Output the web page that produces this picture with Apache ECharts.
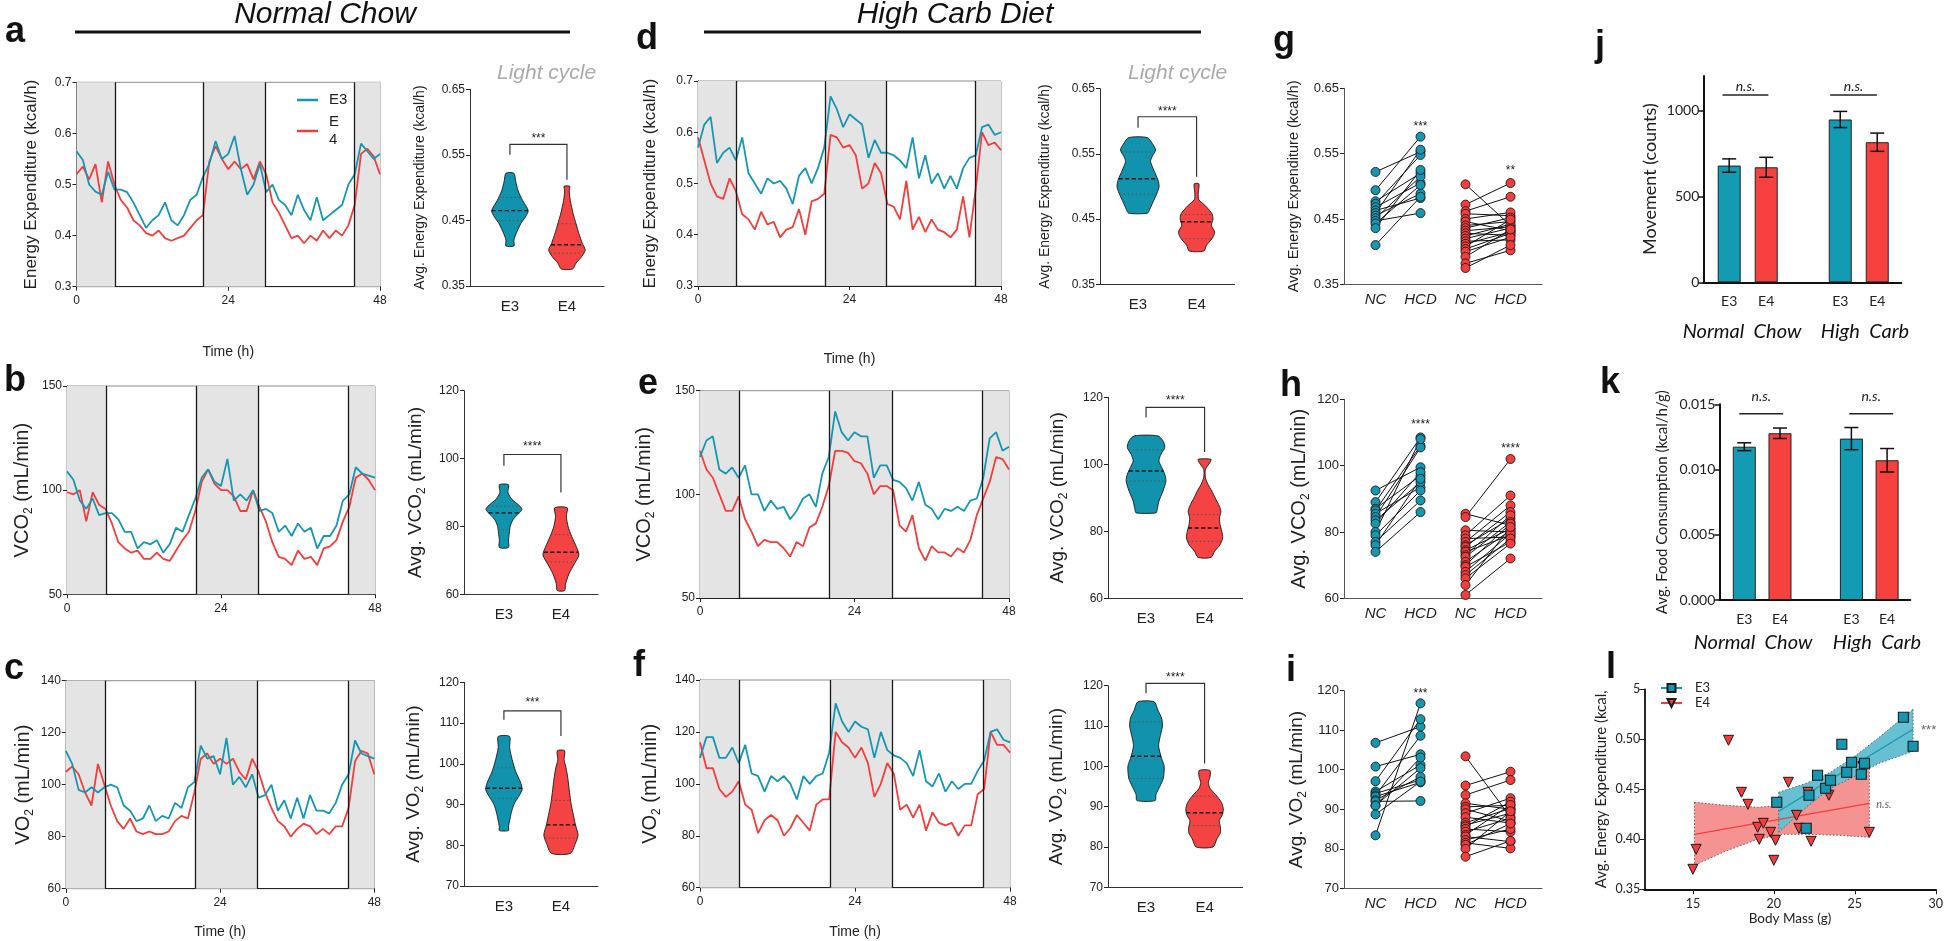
<!DOCTYPE html>
<html><head><meta charset="utf-8">
<script src="https://cdn.jsdelivr.net/npm/echarts@6/dist/echarts.min.js"></script>
<style>html,body{margin:0;padding:0;background:#fff}#c{width:1946px;height:941px}</style>
</head><body><div id="c"></div>
<script>
// ---------------- DATA ----------------
const hours = [0,1,2,3,4,5,6,7,8,9,10,11,12,13,14,15,16,17,18,19,20,21,22,23,24,25,26,27,28,29,30,31,32,33,34,35,36,37,38,39,40,41,42,43,44,45,46,47,48];
const darkPeriods = [[0,6.1],[20.1,29.8],[43.9,48]];
const darkEdges = [6.1,20.1,29.8,43.9];

// Normal chow time series
const eeNC_E3 = [0.565,0.548,0.50,0.486,0.48,0.525,0.49,0.49,0.485,0.465,0.44,0.415,0.43,0.44,0.465,0.43,0.42,0.44,0.47,0.48,0.515,0.54,0.585,0.55,0.56,0.595,0.53,0.48,0.50,0.54,0.485,0.50,0.47,0.46,0.44,0.48,0.45,0.43,0.475,0.43,0.44,0.45,0.46,0.50,0.52,0.58,0.565,0.55,0.56];
const eeNC_E4 = [0.52,0.535,0.51,0.54,0.465,0.545,0.50,0.47,0.455,0.43,0.42,0.405,0.40,0.41,0.395,0.39,0.395,0.40,0.415,0.43,0.44,0.545,0.575,0.55,0.53,0.545,0.53,0.54,0.51,0.545,0.52,0.465,0.445,0.42,0.395,0.40,0.385,0.40,0.39,0.41,0.395,0.41,0.40,0.42,0.46,0.56,0.57,0.555,0.52];
const vco2NC_E3 = [109,105,95,91,96,88,89,89,86,80,80,72,75,74,76,70,74,82,80,88,96,106,110,104,102,115,95,98,95,100,90,91,89,80,83,78,84,80,82,72,78,78,83,95,98,111,108,107,106];
const vco2NC_E4 = [99,98,100,85,99,93,91,84,75,72,70,71,67,67,70,67,66,71,76,80,90,104,110,103,100,100,97,90,90,100,92,85,75,68,67,64,71,67,68,64,72,73,76,85,92,106,108,105,100];
const vo2NC_E3 = [113,108,98,97,99,97,99,100,99,92,90,86,87,92,86,88,87,93,91,99,101,115,110,111,104,118,100,103,99,104,95,96,100,90,94,87,95,87,96,90,90,89,93,100,104,117,112,111,110];
const vo2NC_E4 = [105,107,104,97,92,108,100,92,86,83,87,82,81,82,81,81,82,86,88,87,97,110,112,108,110,108,110,105,102,110,105,97,91,86,84,80,83,85,84,81,83,81,84,84,91,109,113,112,104];
// High carb time series
const eeHC_E3 = [0.57,0.615,0.63,0.54,0.56,0.57,0.545,0.59,0.52,0.50,0.48,0.51,0.50,0.505,0.49,0.46,0.515,0.53,0.50,0.53,0.57,0.67,0.645,0.61,0.635,0.625,0.615,0.55,0.585,0.56,0.56,0.555,0.545,0.53,0.59,0.51,0.555,0.50,0.52,0.49,0.515,0.49,0.53,0.55,0.555,0.61,0.615,0.595,0.60];
const eeHC_E4 = [0.59,0.545,0.50,0.475,0.47,0.51,0.485,0.44,0.43,0.41,0.445,0.42,0.425,0.395,0.41,0.415,0.45,0.40,0.465,0.47,0.48,0.595,0.59,0.57,0.575,0.555,0.49,0.50,0.54,0.52,0.46,0.455,0.43,0.505,0.41,0.435,0.405,0.43,0.41,0.405,0.395,0.41,0.475,0.395,0.49,0.60,0.575,0.58,0.565];
const vco2HC_E3 = [118,126,128,112,110,113,108,114,100,100,92,97,93,94,88,92,98,100,94,110,118,140,130,126,130,128,128,108,114,114,107,106,103,97,106,95,93,88,93,92,94,92,97,98,108,127,130,121,123];
const vco2HC_E4 = [121,112,108,100,92,92,99,88,82,75,78,77,77,74,70,77,75,84,86,94,104,121,121,120,116,115,110,100,104,104,102,85,82,90,74,68,75,72,72,70,74,72,78,90,98,106,118,117,112];
const vo2HC_E3 = [110,118,118,110,110,114,108,115,104,103,97,103,101,103,100,94,103,100,103,104,112,131,124,120,124,122,121,110,120,113,111,110,108,103,113,101,99,104,97,101,98,100,100,105,109,120,121,117,116];
const vo2HC_E4 = [116,106,106,98,95,97,101,92,90,81,86,88,86,80,83,88,85,82,92,94,94,120,116,114,110,114,108,95,100,108,104,90,92,87,92,82,89,85,84,85,80,84,84,96,98,120,115,115,112];

// Violin profiles: [value, half width in category units]; stats: [median, upper quartile, lower quartile]
const vioCats = ['E3','E4'];
const vioA_E3 = [[0.522,0.07],[0.51,0.10],[0.495,0.145],[0.48,0.225],[0.465,0.32],[0.455,0.27],[0.445,0.19],[0.43,0.11],[0.42,0.07],[0.411,0.07]];
const vioA_E4 = [[0.502,0.05],[0.495,0.04],[0.48,0.06],[0.46,0.11],[0.445,0.16],[0.43,0.21],[0.415,0.27],[0.405,0.32],[0.395,0.26],[0.385,0.16],[0.376,0.1]];
const vioB_E3 = [[92.3,0.08],[90,0.07],[88,0.14],[86,0.28],[85,0.315],[84,0.27],[82,0.16],[80,0.11],[78,0.095],[76,0.08],[73.8,0.08]];
const vioB_E4 = [[85.5,0.11],[83,0.095],[80,0.125],[77,0.19],[74,0.27],[71.6,0.315],[69,0.235],[66,0.14],[63,0.08],[61.1,0.065]];
const vioC_E3 = [[106.7,0.1],[104,0.1],[101,0.145],[98,0.21],[95.5,0.29],[93.7,0.32],[92,0.26],[90,0.175],[88,0.13],[86,0.1],[84.5,0.08],[83.6,0.08]];
const vioC_E4 = [[103.2,0.065],[101,0.055],[99,0.09],[96,0.125],[93,0.15],[90,0.18],[88,0.21],[85,0.255],[82.5,0.3],[80.5,0.255],[78,0.165]];
const vioD_E3 = [[0.575,0.16],[0.565,0.25],[0.556,0.3],[0.545,0.235],[0.538,0.215],[0.525,0.27],[0.51,0.34],[0.5,0.36],[0.49,0.325],[0.475,0.25],[0.465,0.2],[0.459,0.16]];
const vioD_E4 = [[0.504,0.04],[0.49,0.03],[0.48,0.037],[0.47,0.155],[0.458,0.265],[0.45,0.28],[0.44,0.255],[0.43,0.31],[0.42,0.265],[0.41,0.17],[0.401,0.125]];
const vioE_E3 = [[108.5,0.2],[107,0.29],[105,0.32],[103,0.255],[101,0.22],[99,0.27],[97,0.32],[95,0.34],[92,0.29],[89,0.22],[86.5,0.19],[85.5,0.17]];
const vioE_E4 = [[101.5,0.11],[100.5,0.09],[98.5,0.015],[96,0.015],[94,0.06],[92,0.125],[90,0.18],[88,0.24],[86,0.28],[84,0.255],[82,0.265],[80,0.295],[78,0.31],[76,0.265],[74,0.17],[72.2,0.11]];
const vioF_E3 = [[116,0.14],[114,0.2],[112,0.265],[110,0.28],[107,0.235],[105,0.215],[102,0.265],[100,0.31],[97,0.295],[95,0.235],[93,0.17],[91.5,0.155]];
const vioF_E4 = [[99,0.09],[97.5,0.095],[96,0.065],[94.5,0.095],[93,0.19],[91,0.29],[89.5,0.32],[88,0.305],[86.5,0.25],[85,0.27],[83.5,0.27],[82,0.21],[80,0.145]];
const statA = [[0.465,0.485,0.45],[0.413,0.445,0.40]];
const statB = [[84,86,79],[72.4,77.6,69.5]];
const statC = [[94,99,91.5],[85,91,81.8]];
const statD = [[0.512,0.553,0.488],[0.446,0.457,0.42]];
const statE = [[98,104.3,95],[81,85,77]];
const statF = [[102.5,111,97],[88.5,92.6,85.3]];

// Paired NC -> HCD values
const pairCats = ['NC','HCD','NC','HCD'];
const gE3_NC = [0.522,0.494,0.477,0.473,0.468,0.463,0.459,0.455,0.451,0.447,0.443,0.436,0.410];
const gE3_HCD = [0.553,0.576,0.520,0.548,0.505,0.482,0.556,0.489,0.515,0.459,0.502,0.525,0.484];
const gE4_NC = [0.503,0.472,0.462,0.458,0.450,0.446,0.440,0.436,0.432,0.428,0.424,0.420,0.416,0.412,0.408,0.404,0.400,0.392,0.382,0.375];
const gE4_HCD = [0.440,0.505,0.484,0.455,0.460,0.432,0.446,0.452,0.438,0.425,0.442,0.436,0.418,0.430,0.449,0.428,0.422,0.434,0.402,0.410];
const hE3_NC = [92.5,89,87,86.5,85.5,84.5,83.5,82.5,80,79,77,76,74];
const hE3_HCD = [99.5,108.5,97,106,93.5,105.5,95,98,108,92.5,89.5,96,86];
const hE4_NC = [85.5,84.5,80.5,79,78,77,76,75.5,74.5,74,73,72.5,71,70,69.5,68,67,66,64,61];
const hE4_HCD = [82,102,80,91,78.5,88,84,86,81,79,85,83,80.5,82.5,77,79.5,78,76.5,81.5,72];
const iE3_NC = [106.8,100.8,97.1,94.5,94,93.5,93.2,92.3,92,91,90.9,88.7,83.4];
const iE3_HCD = [110.9,103.9,112.8,101.2,97.4,108.6,96.8,98.2,92.1,100.4,103.1,97,116.8];
const iE4_NC = [103.4,96,93.6,91.5,90.6,90,89,88,86.6,86,85.6,85,84.3,83.5,83.1,82.2,81.5,81,80,78];
const iE4_HCD = [88,99.5,97.4,90,91,87,92.8,86.5,90.2,89,91.9,84.3,87.7,91.1,81.8,85,80.1,86.4,89.5,82];

// Bars (order: NC E3, NC E4, HC E3, HC E4)
const barCats = ['E3','E4','E3','E4'];
const moveMean = [679,669,947,815];
const moveSem = [39,58,47,53];
const foodMean = [0.01175,0.01278,0.01237,0.01071];
const foodSem = [0.0003,0.0004,0.00085,0.0009];

// Body mass vs energy expenditure
const lE3_mass = [20.18,22.0,22.17,22.7,23.2,23.5,24.2,24.5,24.8,25.4,25.6,28.0,28.6];
const lE3_ee = [0.437,0.411,0.444,0.464,0.451,0.459,0.495,0.467,0.477,0.465,0.476,0.522,0.493];
const lE4_mass = [15.0,15.2,17.2,18.0,18.4,19.0,19.35,19.1,19.8,20.1,20.0,20.9,21.4,21.55,22.1,22.3,23.4,25.5,25.9];
const lE4_ee = [0.370,0.390,0.499,0.447,0.435,0.412,0.416,0.400,0.407,0.399,0.379,0.457,0.424,0.411,0.447,0.398,0.444,0.473,0.407];
const lE3_fitX = [20.3,28.6], lE3_fitY = [0.428,0.510];
const lE4_fitX = [15.1,25.9], lE4_fitY = [0.405,0.436];
const lE3_bandX = [20.3,22,23.5,25,26.5,28.6];
const lE3_bandHi = [0.447,0.456,0.467,0.483,0.502,0.530];
const lE3_bandLo = [0.407,0.432,0.451,0.463,0.476,0.488];
const lE4_bandX = [15.1,17,19,20.5,22,24,25.9];
const lE4_bandHi = [0.437,0.434,0.432,0.434,0.445,0.458,0.471];
const lE4_bandLo = [0.374,0.388,0.400,0.405,0.405,0.404,0.402];

// ---------------- STYLE / HELPERS ----------------
const TEAL='#1697b1', RED='#f53c3c', VT='#1193ad', VR='#f54242', BT='#139bb4', BR='#f6413f';
const FONT='"Liberation Sans", Arial, Helvetica, sans-serif';
const FONT2='Lato, "Open Sans", sans-serif';
const grid=[], xAxis=[], yAxis=[], series=[];
const graphic=[];

function merge(a,b){const o=Object.assign({},a);for(const k in b){const v=b[k];if(v&&typeof v==='object'&&!Array.isArray(v)&&a[k]&&typeof a[k]==='object'&&!Array.isArray(a[k]))o[k]=merge(a[k],v);else o[k]=v;}return o;}
function valAxis(min,max,ticks,fmt,extra){
  return merge({type:'value',min:min,max:max,splitLine:{show:false},
    axisLine:{show:true,onZero:false,lineStyle:{color:'#222',width:1}},
    axisTick:{show:true,customValues:ticks,length:4,lineStyle:{color:'#222',width:1}},
    axisLabel:{show:true,customValues:ticks,formatter:fmt,fontFamily:FONT,fontSize:12,color:'#222',margin:5},
    nameTextStyle:{fontFamily:FONT,color:'#222'}},extra||{});
}
function rich(s){return {sub:{fontSize:Math.round(s*0.62),lineHeight:Math.round(s*0.62),verticalAlign:'bottom',fontFamily:FONT,color:'#222'}};}
function yName(name,size,gap){return {name:name,nameLocation:'middle',nameRotate:90,nameGap:gap,nameTextStyle:{fontSize:size,lineHeight:Math.round(size*1.25),rich:rich(size)}};}
function addGrid(b,show){grid.push({left:b[0],top:b[1],width:b[2],height:b[3],show:!!show,borderColor:'#8c8c8c',borderWidth:1,backgroundColor:'transparent'});return grid.length-1;}
function halfAt(p,v){for(let j=0;j<p.length-1;j++){const a=p[j],b=p[j+1];if(v<=a[0]&&v>=b[0]){const t=(a[0]-v)/(a[0]-b[0]);return a[1]+(b[1]-a[1])*t;}}return p[p.length-1][1];}
function annot(gi,items){
  series.push({type:'custom',xAxisIndex:gi,yAxisIndex:gi,silent:true,clip:false,z:10,data:items.map(it=>[it.x,it.y]),
    renderItem:(p,api)=>{const it=items[p.dataIndex];const c=api.coord([api.value(0),api.value(1)]);
      return {type:'text',x:c[0],y:c[1],style:{text:it.t,fontSize:it.s||12,fontFamily:it.f||FONT,fontStyle:it.i?'italic':'normal',fill:it.c||'#222',align:'center',verticalAlign:'middle',textAlign:'center',textVerticalAlign:'middle'}};}});
}
function bracket(gi,b){
  series.push({type:'custom',xAxisIndex:gi,yAxisIndex:gi,silent:true,clip:false,z:9,data:[b],
    renderItem:(p,api)=>{const v=i=>api.value(i);const pts=[api.coord([v(0),v(3)]),api.coord([v(0),v(2)]),api.coord([v(1),v(2)]),api.coord([v(1),v(4)])];
      return {type:'polyline',shape:{points:pts},style:{stroke:'#333',lineWidth:1.2,fill:null}};}});
}

function tsPanel(o){
  const gi=addGrid(o.box,true);
  xAxis.push(valAxis(0,48,[0,24,48],v=>String(v),{gridIndex:gi,axisLabel:{margin:8},name:o.timeGap?'Time (h)':'',nameLocation:'middle',nameGap:o.timeGap||0,nameTextStyle:{fontSize:14}}));
  yAxis.push(valAxis(o.ymin,o.ymax,o.yticks,o.yfmt,merge({gridIndex:gi},yName(o.name,o.nameSize,o.nameGap))));
  series.push({type:'line',name:o.n4,xAxisIndex:gi,yAxisIndex:gi,data:hours.map((h,i)=>[h,o.e4[i]]),symbol:'none',silent:true,z:3,
    lineStyle:{color:RED,width:1.8},itemStyle:{color:RED},
    markArea:{silent:true,itemStyle:{color:'#e4e4e4'},data:darkPeriods.map(d=>[{xAxis:d[0]},{xAxis:d[1]}])},
    markLine:{silent:true,symbol:['none','none'],label:{show:false},lineStyle:{color:'#1a1a1a',width:1.3,type:'solid'},data:darkEdges.map(x=>({xAxis:x}))}});
  series.push({type:'line',name:o.n3,xAxisIndex:gi,yAxisIndex:gi,data:hours.map((h,i)=>[h,o.e3[i]]),symbol:'none',silent:true,z:4,
    lineStyle:{color:TEAL,width:1.8},itemStyle:{color:TEAL}});
}

function violinPanel(o){
  const gi=addGrid(o.box,false);
  xAxis.push(valAxis(o.xmin,o.xmax,[1,2],v=>vioCats[v-1],{gridIndex:gi,axisTick:{show:false},axisLine:{lineStyle:{color:'#333'}},axisLabel:{fontSize:15,margin:13}}));
  yAxis.push(valAxis(o.ymin,o.ymax,o.yticks,o.yfmt,merge({gridIndex:gi,axisLine:{lineStyle:{color:'#333'}}},yName(o.name,o.nameSize,o.nameGap))));
  const profs=o.profs, stats=o.stats;
  series.push({type:'custom',xAxisIndex:gi,yAxisIndex:gi,silent:true,clip:false,z:5,data:[[1,o.ymin],[2,o.ymin]],
    renderItem:(p,api)=>{
      const i=p.dataIndex,x=api.value(0),prof=profs[i],st=stats[i],col=i===0?VT:VR;
      const right=prof.map(d=>api.coord([x+d[1],d[0]]));
      const left=prof.slice().reverse().map(d=>api.coord([x-d[1],d[0]]));
      const ch=[{type:'polygon',shape:{points:right.concat(left),smooth:0.25},style:{fill:col,stroke:'#1a1a1a',lineWidth:0.9}}];
      st.forEach((v,k)=>{const hw=halfAt(prof,v);const a=api.coord([x-hw,v]),b=api.coord([x+hw,v]);
        ch.push({type:'line',shape:{x1:a[0],y1:a[1],x2:b[0],y2:b[1]},style:k===0?{stroke:'#111',lineWidth:1.4,lineDash:[4,2.5]}:{stroke:'#555',lineWidth:1,lineDash:[1.5,2.5]}});});
      return {type:'group',children:ch};
    }});
  bracket(gi,o.bracket);
  annot(gi,[{x:1.5,y:o.starY,t:o.stars,s:12}]);
}

function pairedPanel(o){
  const gi=addGrid(o.box,false);
  xAxis.push(valAxis(0.3,4.7,[1,2,3,4],v=>pairCats[v-1],{gridIndex:gi,axisTick:{show:false},axisLine:{lineStyle:{color:'#555'}},axisLabel:{fontSize:15,fontStyle:'italic',margin:8}}));
  yAxis.push(valAxis(o.ymin,o.ymax,o.yticks,o.yfmt,merge({gridIndex:gi,axisLine:{lineStyle:{color:'#555'}},axisLabel:{fontSize:13}},yName(o.name,o.nameSize,o.nameGap))));
  const segs=o.e3nc.map((v,i)=>[1,v,2,o.e3hc[i]]).concat(o.e4nc.map((v,i)=>[3,v,4,o.e4hc[i]]));
  series.push({type:'custom',xAxisIndex:gi,yAxisIndex:gi,silent:true,z:3,data:segs,
    renderItem:(p,api)=>{const a=api.coord([api.value(0),api.value(1)]),b=api.coord([api.value(2),api.value(3)]);
      return {type:'line',shape:{x1:a[0],y1:a[1],x2:b[0],y2:b[1]},style:{stroke:'#111',lineWidth:1}};}});
  series.push({type:'scatter',xAxisIndex:gi,yAxisIndex:gi,silent:true,z:4,symbol:'circle',symbolSize:9,
    data:o.e3nc.map(v=>[1,v]).concat(o.e3hc.map(v=>[2,v])),itemStyle:{color:TEAL,borderColor:'#1a1a1a',borderWidth:0.9,opacity:1}});
  series.push({type:'scatter',xAxisIndex:gi,yAxisIndex:gi,silent:true,z:4,symbol:'circle',symbolSize:9,
    data:o.e4nc.map(v=>[3,v]).concat(o.e4hc.map(v=>[4,v])),itemStyle:{color:RED,borderColor:'#1a1a1a',borderWidth:0.9,opacity:1}});
  annot(gi,o.stars);
}

function barPanel(o){
  const gi=addGrid(o.box,false);
  const xs=[1,2,4,5], cols=[BT,BR,BT,BR];
  xAxis.push(valAxis(0.3,5.65,xs,v=>barCats[xs.indexOf(v)],{gridIndex:gi,axisTick:{show:false},axisLine:{lineStyle:{color:'#111',width:2}},axisLabel:{fontFamily:FONT2,fontSize:14,margin:12}}));
  yAxis.push(valAxis(o.ymin,o.ymax,o.yticks,o.yfmt,merge({gridIndex:gi,axisLine:{lineStyle:{color:'#111',width:2}},axisTick:{length:5,lineStyle:{width:1.5,color:'#111'}},axisLabel:{fontFamily:FONT2,fontSize:14,margin:4},nameTextStyle:{fontFamily:FONT2}},yName(o.name,o.nameSize,o.nameGap))));
  series.push({type:'bar',xAxisIndex:gi,yAxisIndex:gi,silent:true,barWidth:o.bw,z:2,
    data:xs.map((x,i)=>({value:[x,o.means[i]],itemStyle:{color:cols[i],borderColor:'#222',borderWidth:1}}))});
  series.push({type:'custom',xAxisIndex:gi,yAxisIndex:gi,silent:true,z:4,clip:false,
    data:xs.map((x,i)=>[x,o.means[i]-o.sems[i],o.means[i]+o.sems[i]]),
    renderItem:(p,api)=>{const lo=api.coord([api.value(0),api.value(1)]),hi=api.coord([api.value(0),api.value(2)]);const w=7;
      return {type:'group',children:[
        {type:'line',shape:{x1:lo[0],y1:lo[1],x2:hi[0],y2:hi[1]},style:{stroke:'#111',lineWidth:1.5}},
        {type:'line',shape:{x1:lo[0]-w,y1:lo[1],x2:lo[0]+w,y2:lo[1]},style:{stroke:'#111',lineWidth:1.5}},
        {type:'line',shape:{x1:hi[0]-w,y1:hi[1],x2:hi[0]+w,y2:hi[1]},style:{stroke:'#111',lineWidth:1.5}}]};}});
  series.push({type:'custom',xAxisIndex:gi,yAxisIndex:gi,silent:true,z:4,clip:false,data:o.ns,
    renderItem:(p,api)=>{const a=api.coord([api.value(0),api.value(2)]),b=api.coord([api.value(1),api.value(2)]);
      return {type:'line',shape:{x1:a[0],y1:a[1],x2:b[0],y2:b[1]},style:{stroke:'#222',lineWidth:1.5}};}});
  annot(gi,o.ns.map(n=>({x:(n[0]+n[1])/2,y:o.nsTextY,t:'n.s.',s:14,i:true,f:FONT2})));
}

// ---------------- PANELS ----------------
tsPanel({box:[76.5,82.3,303.5,204.4],ymin:0.3,ymax:0.7,yticks:[0.3,0.4,0.5,0.6,0.7],yfmt:v=>v.toFixed(1),name:'Energy Expenditure (kcal/h)',nameSize:17,nameGap:35,e3:eeNC_E3,e4:eeNC_E4,n3:'E3',n4:'E4',timeGap:58});
tsPanel({box:[67,386,308,208.3],ymin:50,ymax:150,yticks:[50,100,150],yfmt:v=>String(v),name:'VCO{sub|2} (mL/min)',nameSize:20,nameGap:32,e3:vco2NC_E3,e4:vco2NC_E4,n3:'b3',n4:'b4'});
tsPanel({box:[65.8,680.7,308.5,208],ymin:60,ymax:140,yticks:[60,80,100,120,140],yfmt:v=>String(v),name:'VO{sub|2} (mL/min)',nameSize:20,nameGap:30,e3:vo2NC_E3,e4:vo2NC_E4,n3:'c3',n4:'c4',timeGap:36});
tsPanel({box:[698,81,303,205],ymin:0.3,ymax:0.7,yticks:[0.3,0.4,0.5,0.6,0.7],yfmt:v=>v.toFixed(1),name:'Energy Expenditure (kcal/h)',nameSize:17,nameGap:37,e3:eeHC_E3,e4:eeHC_E4,n3:'d3',n4:'d4',timeGap:66});
tsPanel({box:[700,390.7,309,207.3],ymin:50,ymax:150,yticks:[50,100,150],yfmt:v=>String(v),name:'VCO{sub|2} (mL/min)',nameSize:20,nameGap:43,e3:vco2HC_E3,e4:vco2HC_E4,n3:'e3',n4:'e4'});
tsPanel({box:[700,680,310,207.7],ymin:60,ymax:140,yticks:[60,80,100,120,140],yfmt:v=>String(v),name:'VO{sub|2} (mL/min)',nameSize:20,nameGap:37,e3:vo2HC_E3,e4:vo2HC_E4,n3:'f3',n4:'f4',timeGap:37});

violinPanel({box:[470,89.3,134,196.7],xmin:0.3,xmax:2.65,ymin:0.35,ymax:0.65,yticks:[0.35,0.45,0.55,0.65],yfmt:v=>v.toFixed(2),name:'Avg. Energy Expenditure (kcal/h)',nameSize:14,nameGap:41,profs:[vioA_E3,vioA_E4],stats:statA,bracket:[1,2,0.566,0.55,0.512],starY:0.575,stars:'***'});
violinPanel({box:[464,390.7,134,203.6],xmin:0.3,xmax:2.65,ymin:60,ymax:120,yticks:[60,80,100,120],yfmt:v=>String(v),name:'Avg. VCO{sub|2} (mL/min)',nameSize:19,nameGap:36,profs:[vioB_E3,vioB_E4],stats:statB,bracket:[1,2,101.2,97.9,90],starY:103.5,stars:'****'});
violinPanel({box:[464,682.3,134,203.7],xmin:0.3,xmax:2.65,ymin:70,ymax:120,yticks:[70,80,90,100,110,120],yfmt:v=>String(v),name:'Avg. VO{sub|2} (mL/min)',nameSize:19,nameGap:38,profs:[vioC_E3,vioC_E4],stats:statC,bracket:[1,2,113,110.8,106.8],starY:115,stars:'***'});
violinPanel({box:[1100,88.7,134.6,195.6],xmin:0.35,xmax:2.65,ymin:0.35,ymax:0.65,yticks:[0.35,0.45,0.55,0.65],yfmt:v=>v.toFixed(2),name:'Avg. Energy Expenditure (kcal/h)',nameSize:14,nameGap:46,profs:[vioD_E3,vioD_E4],stats:statD,bracket:[1,2,0.607,0.59,0.515],starY:0.614,stars:'****'});
violinPanel({box:[1108,397.3,134.6,201],xmin:0.35,xmax:2.65,ymin:60,ymax:120,yticks:[60,80,100,120],yfmt:v=>String(v),name:'Avg. VCO{sub|2} (mL/min)',nameSize:19,nameGap:38,profs:[vioE_E3,vioE_E4],stats:statE,bracket:[1,2,117,114,103.7],starY:119,stars:'****'});
violinPanel({box:[1108,685.7,134.6,201.6],xmin:0.35,xmax:2.65,ymin:70,ymax:120,yticks:[70,80,90,100,110,120],yfmt:v=>String(v),name:'Avg. VO{sub|2} (mL/min)',nameSize:19,nameGap:39,profs:[vioF_E3,vioF_E4],stats:statF,bracket:[1,2,120.6,118.1,100.7],starY:121.9,stars:'****'});

pairedPanel({box:[1344,88.3,198,196],ymin:0.35,ymax:0.65,yticks:[0.35,0.45,0.55,0.65],yfmt:v=>v.toFixed(2),name:'Avg. Energy Expenditure (kcal/h)',nameSize:14.5,nameGap:41,e3nc:gE3_NC,e3hc:gE3_HCD,e4nc:gE4_NC,e4hc:gE4_HCD,stars:[{x:2,y:0.592,t:'***'},{x:4,y:0.524,t:'**'}]});
pairedPanel({box:[1344,399.3,198,199],ymin:60,ymax:120,yticks:[60,80,100,120],yfmt:v=>String(v),name:'Avg. VCO{sub|2} (mL/min)',nameSize:20,nameGap:32,e3nc:hE3_NC,e3hc:hE3_HCD,e4nc:hE4_NC,e4hc:hE4_HCD,stars:[{x:2,y:112.3,t:'****'},{x:4,y:105.2,t:'****'}]});
pairedPanel({box:[1344,690.7,198,197.6],ymin:70,ymax:120,yticks:[70,80,90,100,110,120],yfmt:v=>String(v),name:'Avg. VO{sub|2} (mL/min)',nameSize:19,nameGap:35,e3nc:iE3_NC,e3hc:iE3_HCD,e4nc:iE4_NC,e4hc:iE4_HCD,stars:[{x:2,y:119.3,t:'***'}]});

barPanel({box:[1703.3,76,198,206.3],ymin:0,ymax:1200,yticks:[0,500,1000],yfmt:v=>String(v),name:'Movement (counts)',nameSize:18,nameGap:42,bw:23,means:moveMean,sems:moveSem,ns:[[0.82,2.06,1089],[3.73,4.99,1089]],nsTextY:1138});
barPanel({box:[1719.3,404.3,191,195.7],ymin:0,ymax:0.015,yticks:[0,0.005,0.010,0.015],yfmt:v=>v.toFixed(3),name:'Avg. Food Consumption (kcal/h/g)',nameSize:15,nameGap:48,bw:23,means:foodMean,sems:foodSem,ns:[[0.86,2.09,0.01428],[3.94,5.17,0.01428]],nsTextY:0.0156});

// panel l
(function(){
  const gi=addGrid([1644.3,689.3,293,200],false);
  xAxis.push(valAxis(12,30,[15,20,25,30],v=>String(v),{gridIndex:gi,axisLine:{lineStyle:{color:'#111',width:1.8}},axisTick:{length:5},axisLabel:{fontFamily:FONT2,fontSize:12.5,margin:8},name:'Body Mass (g)',nameLocation:'middle',nameGap:20,nameTextStyle:{fontFamily:FONT2,fontSize:13.5}}));
  yAxis.push(valAxis(0.35,0.55,[0.35,0.40,0.45,0.50,0.55],v=>v===0.55?'5':v.toFixed(2),merge({gridIndex:gi,axisLine:{lineStyle:{color:'#111',width:1.8}},axisTick:{length:5},axisLabel:{fontFamily:FONT2,fontSize:12.5,margin:4},nameTextStyle:{fontFamily:FONT2}},yName('Avg. Energy Expenditure (kcal,',15,34))));
  function band(xs,hi,lo,fill,blend){
    series.push({type:'custom',xAxisIndex:gi,yAxisIndex:gi,silent:true,z:1,data:[[xs[0],lo[0]]],
      renderItem:(p,api)=>{const up=xs.map((x,i)=>api.coord([x,hi[i]]));const dn=xs.map((x,i)=>api.coord([x,lo[i]])).reverse();
        const st={fill:fill};if(blend)st.blend=blend;
        return {type:'group',children:[{type:'polygon',shape:{points:up.concat(dn)},style:st},
          {type:'polyline',shape:{points:up},style:{stroke:'#555',lineWidth:0.9,lineDash:[1.5,2],fill:null}},
          {type:'polyline',shape:{points:dn},style:{stroke:'#555',lineWidth:0.9,lineDash:[1.5,2],fill:null}},
          {type:'line',shape:{x1:up[0][0],y1:up[0][1],x2:dn[dn.length-1][0],y2:dn[dn.length-1][1]},style:{stroke:'#555',lineWidth:0.9,lineDash:[1.5,2]}},
          {type:'line',shape:{x1:up[up.length-1][0],y1:up[up.length-1][1],x2:dn[0][0],y2:dn[0][1]},style:{stroke:'#555',lineWidth:0.9,lineDash:[1.5,2]}}]};}});
  }
  band(lE4_bandX,lE4_bandHi,lE4_bandLo,'#f59393',null);
  band(lE3_bandX,lE3_bandHi,lE3_bandLo,'#66c0d1','multiply');
  series.push({type:'line',name:'E3·l',xAxisIndex:gi,yAxisIndex:gi,silent:true,z:2,data:lE3_fitX.map((x,i)=>[x,lE3_fitY[i]]),symbol:'rect',symbolSize:10,showSymbol:false,lineStyle:{color:TEAL,width:1.3},itemStyle:{color:TEAL,borderColor:'#1a1a1a',borderWidth:1}});
  series.push({type:'line',name:'E4·l',xAxisIndex:gi,yAxisIndex:gi,silent:true,z:2,data:lE4_fitX.map((x,i)=>[x,lE4_fitY[i]]),symbol:'triangle',symbolRotate:180,symbolSize:10,showSymbol:false,lineStyle:{color:RED,width:1.3},itemStyle:{color:RED,borderColor:'#1a1a1a',borderWidth:1}});
  series.push({type:'scatter',name:'E4·l',xAxisIndex:gi,yAxisIndex:gi,silent:true,z:3,symbol:'triangle',symbolRotate:180,symbolSize:10,data:lE4_mass.map((x,i)=>[x,lE4_ee[i]]),itemStyle:{color:RED,borderColor:'#1a1a1a',borderWidth:1,opacity:1}});
  series.push({type:'scatter',name:'E3·l',xAxisIndex:gi,yAxisIndex:gi,silent:true,z:3,symbol:'rect',symbolSize:10,data:lE3_mass.map((x,i)=>[x,lE3_ee[i]]),itemStyle:{color:TEAL,borderColor:'#1a1a1a',borderWidth:1.1,opacity:1}});
  annot(gi,[{x:29.56,y:0.509,t:'***',s:13,c:'#666'},{x:26.8,y:0.435,t:'n.s.',s:11,i:true,c:'#666',f:FONT2}]);
})();

// ---------------- TEXT / DECORATION ----------------
function txt(t,x,y,font,fill,align,valign){graphic.push({type:'text',x:x,y:y,silent:true,style:{text:t,font:font,fill:fill||'#111',textAlign:align||'center',textVerticalAlign:valign||'middle',align:align||'center',verticalAlign:valign||'middle'}});}
txt('Normal Chow',325,15,'italic 30px "Liberation Sans"','#111');
txt('High Carb Diet',955,15,'italic 30px "Liberation Sans"','#111');
graphic.push({type:'line',silent:true,shape:{x1:75,y1:32,x2:570,y2:32},style:{stroke:'#111',lineWidth:3}});
graphic.push({type:'line',silent:true,shape:{x1:704,y1:32,x2:1201,y2:32},style:{stroke:'#111',lineWidth:3}});
txt('Light cycle',497,73,'italic 21px "Liberation Sans"','#aaaaaa','left');
txt('Light cycle',1128,73,'italic 21px "Liberation Sans"','#aaaaaa','left');
const letters=[['a',5,50],['b',4,399],['c',4,687],['d',636,57],['e',638,402],['f',633,684],['g',1273,59],['h',1280,404],['i',1286,689],['j',1595,64],['k',1600,401],['l',1606,686]];
letters.forEach(L=>txt(L[0],L[1],L[2],'bold 36px "Liberation Sans"','#111','left','bottom'));
txt('Normal  Chow',1742,332,'italic 20px Lato','#111');
txt('High  Carb',1865,332,'italic 20px Lato','#111');
txt('Normal  Chow',1753,643,'italic 20px Lato','#111');
txt('High  Carb',1877,643,'italic 20px Lato','#111');

const option={
  animation:false,
  backgroundColor:'#ffffff',
  grid:grid,xAxis:xAxis,yAxis:yAxis,series:series,graphic:graphic,
  legend:[
    {data:['E3','E4'],left:292,top:86,orient:'vertical',icon:'rect',itemWidth:21,itemHeight:2.5,itemGap:4,selectedMode:false,
     formatter:n=>n==='E4'?'E\n4':n,textStyle:{fontFamily:FONT,fontSize:15,lineHeight:18,color:'#222',padding:[0,0,0,6]}},
    {data:['E3·l','E4·l'],left:1655,top:676,orient:'vertical',itemWidth:21,itemHeight:10,itemGap:1,selectedMode:false,
     formatter:n=>n.split('·')[0],textStyle:{fontFamily:FONT2,fontSize:13,lineHeight:14,color:'#222',padding:[0,0,0,8]}}
  ]
};
const chart=echarts.init(document.getElementById('c'),null,{renderer:'canvas',width:1946,height:941});
chart.setOption(option);
</script></body></html>
